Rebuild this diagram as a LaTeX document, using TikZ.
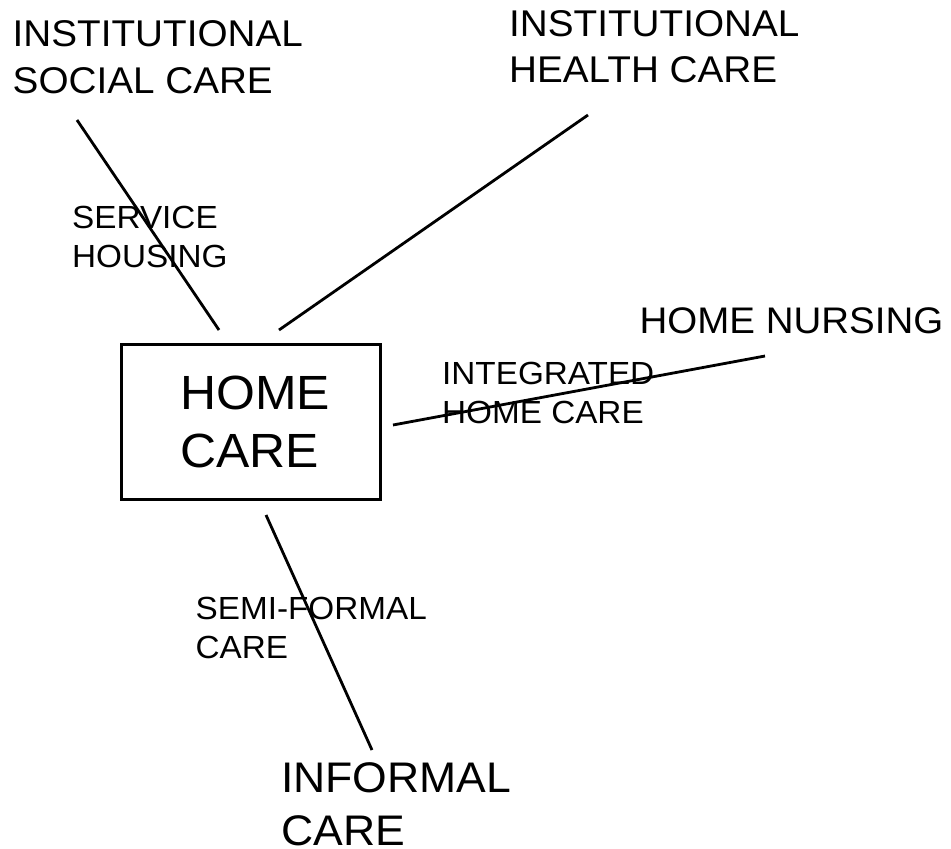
\documentclass[tikz,border=0pt]{standalone}
\usepackage{fontspec}
\setmainfont[FakeStretch=1.04]{Liberation Sans}
\begin{document}
\begin{tikzpicture}[x=1pt,y=-1pt,
  label/.style={inner sep=0pt, anchor=north west, align=left},
  bigtext/.style={label, font=\fontsize{37.2}{46.5}\selectfont},
  smalltext/.style={label, font=\fontsize{32}{39}\selectfont},
  hubbox/.style={draw, line width=3pt, minimum width=259pt, minimum height=155pt,
    inner sep=0pt, text width=141pt, align=left, font=\fontsize{48}{58}\selectfont},
  link/.style={line width=2.8pt}]
\useasboundingbox (0,0) rectangle (951,849);

% central box
\node[hubbox, anchor=north west] (hc) at (120,343) {HOME\\CARE};

% outer care forms
\node[bigtext] (isc) at (12.5,20.5) {INSTITUTIONAL\\SOCIAL CARE};
\node[bigtext] (ihc) at (509,10) {INSTITUTIONAL\\HEALTH CARE};
\node[label, font=\fontsize{37}{46}\selectfont] (hn) at (639.5,307.5) {HOME NURSING};
\node[label, font=\fontsize{42.8}{53}\selectfont] (ic) at (281,762) {INFORMAL\\CARE};

% intermediate forms
\node[smalltext] (sh) at (72,206) {SERVICE\\HOUSING};
\node[smalltext] (ihc2) at (442,362) {INTEGRATED\\HOME CARE};
\node[smalltext] (sf) at (195.5,597) {SEMI-FORMAL\\CARE};

% line end points
\coordinate (isc-end) at ([shift={(64.5,99.5)}]isc.north west);
\coordinate (ihc-end) at ([shift={(79,105)}]ihc.north west);
\coordinate (hn-end)  at ([shift={(125.5,48.5)}]hn.north west);
\coordinate (ic-end)  at ([shift={(91,-12)}]ic.north west);
\coordinate (hc-n1) at ([shift={(99,-13)}]hc.north west);
\coordinate (hc-n2) at ([shift={(159,-13)}]hc.north west);
\coordinate (hc-e)  at ([shift={(11,82)}]hc.north east);
\coordinate (hc-s)  at ([shift={(146,14)}]hc.south west);

% connectors
\draw[link] (isc-end) -- (hc-n1);
\draw[link] (ihc-end) -- (hc-n2);
\draw[link] (hn-end) -- (hc-e);
\draw[link] (hc-s) -- (ic-end);
\end{tikzpicture}
\end{document}
